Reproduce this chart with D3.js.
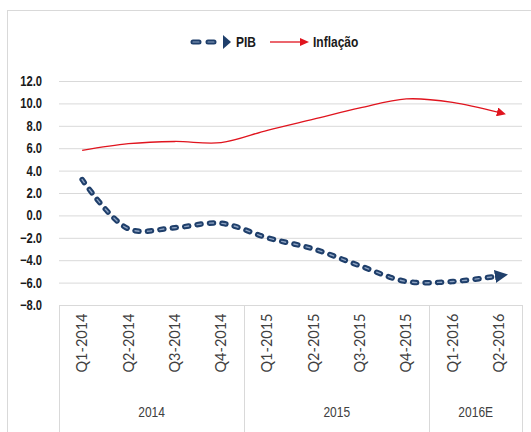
<!DOCTYPE html>
<html><head><meta charset="utf-8">
<script src="https://cdn.jsdelivr.net/npm/d3@7"></script>
<style>body{margin:0;background:#fff}svg{display:block}</style>
</head><body>
<svg id="chart" width="531" height="432"></svg>
<script>
const quarters = ["Q1-2014","Q2-2014","Q3-2014","Q4-2014","Q1-2015","Q2-2015","Q3-2015","Q4-2015","Q1-2016","Q2-2016"];
const years = ["2014","2015","2016E"];
const yearSpans = [4,4,2];
const pib = [3.2,-1.2,-1.1,-0.7,-2.0,-3.0,-4.5,-5.9,-5.9,-5.4];
const inflacao = [5.8,6.4,6.6,6.5,7.6,8.6,9.6,10.4,10.1,9.2];
const yTicks = [12,10,8,6,4,2,0,-2,-4,-6,-8];

const svg = d3.select("#chart");
const L = 59, R = 522, T = 81, B = 305;
const x = d3.scaleBand().domain(quarters).range([L, R]).paddingInner(0).paddingOuter(0);
const y = d3.scaleLinear().domain([-8, 12]).range([B, T]);
const cx = d => x(d) + x.bandwidth()/2;
const font = "'Liberation Sans','Arial',sans-serif";
const sq = 0.8; // horizontal condensing

svg.append("rect").attr("x",7.5).attr("y",10.5).attr("width",540).attr("height",440)
  .attr("fill","none").attr("stroke","#d9d9d9");

const defs = svg.append("defs");
defs.append("marker").attr("id","arrB").attr("viewBox","0 0 10 10").attr("refX",3).attr("refY",5)
  .attr("markerWidth",2.4).attr("markerHeight",2.6).attr("markerUnits","strokeWidth").attr("orient","auto")
  .append("path").attr("d","M0,0L10,5L0,10Z").attr("fill","#1f3f6b");
defs.append("marker").attr("id","arrR").attr("viewBox","0 0 10 10").attr("refX",2).attr("refY",5)
  .attr("markerWidth",7).attr("markerHeight",7).attr("markerUnits","strokeWidth").attr("orient","auto")
  .append("path").attr("d","M0,0L10,5L0,10Z").attr("fill","#e0141e");

svg.append("g").selectAll("line").data(yTicks.filter(t=>t>-8)).join("line")
  .attr("x1",L).attr("x2",R).attr("y1",d=>y(d)+0.5).attr("y2",d=>y(d)+0.5)
  .attr("stroke","#d9d9d9").attr("stroke-width",1);

const yAxis = d3.axisLeft(y).tickValues(yTicks).tickFormat(d3.format(".1f")).tickSize(0).tickPadding(0);
const ya = svg.append("g").attr("transform",`translate(42,0) scale(${sq},1)`).call(yAxis);
ya.select(".domain").remove();
ya.selectAll("text").attr("font-family",font).attr("font-weight","bold").attr("font-size",14).attr("fill","#1a1a1a");

const bx = svg.append("g");
bx.append("line").attr("x1",L).attr("x2",R).attr("y1",B+0.5).attr("y2",B+0.5).attr("stroke","#d9d9d9");
let idx = 0;
const bounds = [0];
yearSpans.forEach(s => { idx += s; bounds.push(idx); });
bounds.forEach(b => {
  const xp = b < quarters.length ? x(quarters[b]) : R;
  bx.append("line").attr("x1",Math.round(xp)+0.5).attr("x2",Math.round(xp)+0.5).attr("y1",B).attr("y2",432)
    .attr("stroke","#d9d9d9");
});
const xAxis = d3.axisBottom(x).tickSize(0).tickPadding(0);
const xa = bx.append("g").attr("transform",`translate(0,${B})`).call(xAxis);
xa.select(".domain").remove();
xa.selectAll("text").attr("transform","rotate(-90)").attr("text-anchor","middle")
  .attr("x",-38).attr("y",0).attr("dy","0.35em")
  .attr("font-family","Lato, 'Open Sans', sans-serif").attr("font-size",14.5).attr("fill","#404040");
yearSpans.forEach((s,i) => {
  const x0 = x(quarters[bounds[i]]);
  const x1 = bounds[i+1] < quarters.length ? x(quarters[bounds[i+1]]) : R;
  bx.append("text").attr("transform",`translate(${(x0+x1)/2},417) scale(${sq},1)`).attr("text-anchor","middle")
    .attr("font-family",font).attr("font-size",15).attr("fill","#404040").text(years[i]);
});

const line = d3.line().x((d,i)=>cx(quarters[i])).y(d=>y(d)).curve(d3.curveCatmullRom.alpha(0.5));
svg.append("path").datum(inflacao).attr("d",line).attr("fill","none")
  .attr("stroke","#e0141e").attr("stroke-width",1.3).attr("marker-end","url(#arrR)");
svg.append("path").datum(pib).attr("d",line).attr("fill","none")
  .attr("stroke","#1f3f6b").attr("stroke-width",5.5).attr("stroke-dasharray","4,8.5")
  .attr("stroke-linecap","round").attr("marker-end","url(#arrB)");
svg.append("path").datum(pib).attr("d",line).attr("fill","none")
  .attr("stroke","#8ea3c2").attr("stroke-width",1.4).attr("stroke-dasharray","4,8.5")
  .attr("stroke-linecap","round");

const lg = svg.append("g");
lg.append("line").attr("x1",193).attr("x2",220).attr("y1",42).attr("y2",42)
  .attr("stroke","#1f3f6b").attr("stroke-width",5).attr("stroke-dasharray","6,9").attr("stroke-linecap","round");
lg.append("line").attr("x1",193).attr("x2",220).attr("y1",42).attr("y2",42)
  .attr("stroke","#8ea3c2").attr("stroke-width",1.2).attr("stroke-dasharray","6,9").attr("stroke-linecap","round");
lg.append("path").attr("d","M223,35L231,42L223,49Z").attr("fill","#1f3f6b");
lg.append("text").attr("transform",`translate(236,47) scale(${sq},1)`).attr("font-family",font).attr("font-weight","bold")
  .attr("font-size",15).attr("fill","#1a1a1a").text("PIB");
lg.append("line").attr("x1",270).attr("x2",302).attr("y1",42).attr("y2",42)
  .attr("stroke","#e0141e").attr("stroke-width",1.3);
lg.append("path").attr("d","M300,38L309,42L300,46Z").attr("fill","#e0141e");
lg.append("text").attr("transform",`translate(313,47) scale(${sq},1)`).attr("font-family",font).attr("font-weight","bold")
  .attr("font-size",15).attr("fill","#1a1a1a").text("Inflação");
</script>
</body></html>
